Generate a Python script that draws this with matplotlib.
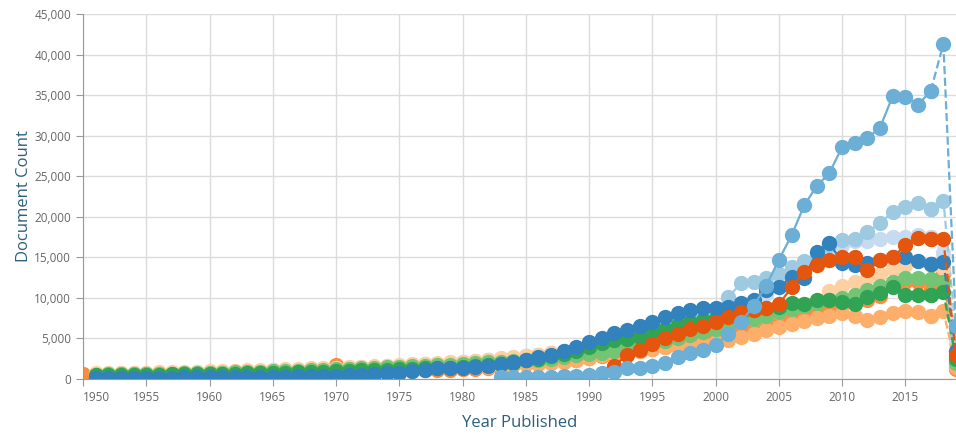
import numpy as np
import matplotlib
matplotlib.use('Agg')
import matplotlib.pyplot as plt
from matplotlib.ticker import FuncFormatter

nan = np.nan
years = list(range(1950, 2020))

# valores (aproximados)
dark_blue = [nan,
    120, 130, 140, 150, 160, 170, 180, 190, 200,
    210, 220, 230, 240, 250, 270, 290, 310, 330, 350,
    400, 440, 500, 580, 680, 800, 950, 1150, 1300, 1350,
    1400, 1500, 1650, 1850, 2100, 2400, 2700, 3000, 3400, 3900,
    4600, 5000, 5700, 6000, 6500, 7000, 7600, 8100, 8500, 8700,
    8700, 8900, 9400, 9800, 11000, 11300, 12600, 12500, 15600, 16800,
    14300, 14000, 14300, 14700, 15000, 15000, 14600, 14200, 14400, 3500]
med_blue = [nan] * 33 + [
    250, 250, 250, 280, 300, 350, 400,
    500, 750, 900, 1300, 1400, 1600, 2000, 2750, 3150, 3600,
    4200, 5500, 7000, 9000, 11500, 14700, 17700, 21400, 23800, 25400,
    28600, 29100, 29700, 31000, 34900, 34800, 33800, 35500, 41300, 6500]
light_blue = [nan,
    600, 610, 630, 650, 670, 690, 710, 740, 770,
    800, 830, 870, 910, 950, 1000, 1050, 1100, 1150, 1200,
    1250, 1300, 1350, 1400, 1500, 1600, 1700, 1800, 1900, 2000,
    2100, 2200, 2300, 2400, 2600, 2800, 3000, 3200, 3400, 3700,
    3900, 4200, 4500, 4800, 5200, 5600, 6100, 6900, 7600, 7900,
    8600, 10100, 11800, 12000, 12500, 13000, 13800, 14500, 15000, 16500,
    17100, 17300, 18100, 19200, 20600, 21200, 21700, 21000, 22000, 5500]
pale_blue = [nan,
    650, 660, 680, 700, 720, 740, 770, 800, 830,
    860, 890, 930, 970, 1010, 1060, 1110, 1160, 1210, 1270,
    1330, 1390, 1450, 1510, 1580, 1660, 1740, 1820, 1900, 2000,
    2100, 2200, 2300, 2450, 2600, 2800, 3000, 3200, 3400, 3700,
    3900, 4100, 4400, 4700, 5000, 5400, 5800, 6300, 6800, 7400,
    8000, 8600, 9200, 9800, 10500, 11500, 12500, 13500, 14500, 15500,
    16500, 17000, 17000, 17300, 17500, 17500, 17800, 17500, 15500, 4500]
dark_orange = [nan] * 42 + [
    1600, 3000, 3600, 4300, 5000, 5600, 6200, 6500,
    7000, 7700, 8300, 8500, 8800, 9200, 11300, 13200, 14000, 14700,
    15000, 15000, 13400, 14700, 15000, 16500, 17400, 17200, 17200, 3000]
orange = [600,
    300, 310, 320, 330, 340, 350, 360, 380, 400,
    420, 440, 460, 480, 500, 530, 560, 600, 640, 680,
    1700, 760, 800, 850, 900, 950, 1000, 1050, 1100, 1150,
    1200, 1250, 1300, 1350, 2100, 2000, 2100, 2200, 2300, 2400,
    2600, 2800, 3000, 3200, 3400, 3700, 4000, 4300, 4600, 4900,
    5200, 5600, 6000, 6400, 6800, 7200, 7600, 8000, 8500, 8800,
    9200, 9400, 9700, 10200, 11500, 12000, 12000, 11000, 13000, 1200]
light_orange = [nan,
    520, 530, 540, 550, 560, 580, 600, 620, 640,
    660, 680, 700, 720, 750, 780, 810, 840, 870, 900,
    940, 980, 1020, 1060, 1100, 1150, 1200, 1250, 1300, 1350,
    1400, 1450, 1500, 1600, 1700, 1800, 1900, 2000, 2100, 2300,
    2600, 2900, 3100, 3300, 3500, 3700, 3900, 4000, 4200, 4400,
    4600, 4800, 5200, 5600, 6000, 6400, 6800, 7200, 7500, 7800,
    8100, 7800, 7300, 7700, 8100, 8400, 8200, 7800, 8400, 1500]
pale_orange = [nan,
    700, 720, 740, 760, 780, 810, 840, 870, 900,
    940, 980, 1020, 1060, 1100, 1150, 1200, 1250, 1300, 1350,
    1400, 1460, 1520, 1580, 1640, 1720, 1800, 1880, 1960, 2050,
    2150, 2250, 2400, 2550, 2700, 2850, 3000, 3150, 3300, 3500,
    3600, 3800, 4000, 4200, 4500, 4800, 5100, 5400, 5700, 6000,
    6300, 6600, 7000, 7400, 7800, 8300, 8800, 9300, 9800, 10800,
    11500, 12000, 12400, 13000, 13500, 14000, 14500, 14000, 13700, 2000]
green = [nan,
    480, 490, 500, 510, 520, 540, 560, 580, 600,
    620, 640, 670, 700, 730, 760, 800, 840, 880, 920,
    960, 1000, 1050, 1100, 1150, 1200, 1250, 1300, 1350, 1400,
    1500, 1600, 1700, 1850, 2000, 2300, 2500, 2800, 3100, 3500,
    4000, 4500, 4800, 4900, 5200, 5800, 6200, 6600, 7000, 7300,
    7500, 8000, 8300, 8500, 8700, 8900, 9400, 9200, 9700, 9700,
    9500, 9300, 10100, 10600, 11300, 10300, 10300, 10300, 10700, 2500]
light_green = [nan,
    550, 560, 580, 600, 620, 640, 660, 690, 720,
    750, 780, 820, 860, 900, 940, 980, 1030, 1080, 1130,
    1180, 1240, 1300, 1360, 1420, 1480, 1550, 1620, 1700, 1780,
    1860, 1950, 2050, 2150, 2200, 2300, 2400, 2500, 2700, 2950,
    3100, 3200, 3500, 3800, 4100, 4400, 4700, 5000, 5400, 5800,
    6200, 6600, 7000, 7400, 7800, 8200, 8600, 9000, 9400, 9700,
    10000, 10300, 11000, 11500, 12000, 12500, 12500, 12300, 12000, 2000]

# ordem de desenho (o último fica por cima)
series = [
    (orange, '#fd8d3c'),
    (pale_blue, '#c6dbef'),
    (light_blue, '#9ecae1'),
    (pale_orange, '#fdd0a2'),
    (light_orange, '#fdae6b'),
    (light_green, '#74c476'),
    (green, '#31a354'),
    (dark_blue, '#3182bd'),
    (dark_orange, '#e6550d'),
    (med_blue, '#6baed6'),
]

fig = plt.figure(figsize=(9.56, 4.36), dpi=100)
ax = fig.add_axes([83 / 956, 57 / 436, 873 / 956, 365 / 436])

x = np.array(years)
k = years.index(2017)
for vals, cor in series:
    y = np.array(vals, dtype=float)
    # anos completos: linha cheia; últimos anos: tracejada
    ax.plot(x[:k + 1], y[:k + 1], '-', color=cor, lw=1.6, marker='o', ms=10, mec=cor)
    ax.plot(x[k:], y[k:], '--', color=cor, lw=1.6, marker='o', ms=10, mec=cor)

ax.set_xlim(1950, 2019)
ax.set_ylim(0, 45000)
ax.set_xticks(range(1950, 2016, 5))
ax.set_yticks(range(0, 45001, 5000))
ax.yaxis.set_major_formatter(FuncFormatter(lambda v, p: f'{int(v):,}'))
ax.grid(True, color='#dcdcdc', lw=1)
ax.set_axisbelow(True)
for s in ['top', 'right']:
    ax.spines[s].set_visible(False)
for s in ['left', 'bottom']:
    ax.spines[s].set_color('#999999')
ax.tick_params(colors='#999999', labelcolor='#666666', labelsize=8.5, length=5)
for lab in ax.get_xticklabels() + ax.get_yticklabels():
    lab.set_fontfamily('Open Sans')
ax.get_xticklabels()[0].set_horizontalalignment('left')

ax.set_ylabel('Document Count', fontsize=12, color='#2c5f7e', family='Open Sans', labelpad=2)
ax.set_xlabel('Year Published', fontsize=12, color='#2c5f7e', family='Open Sans', labelpad=8)

fig.savefig('out.png', dpi=100)
